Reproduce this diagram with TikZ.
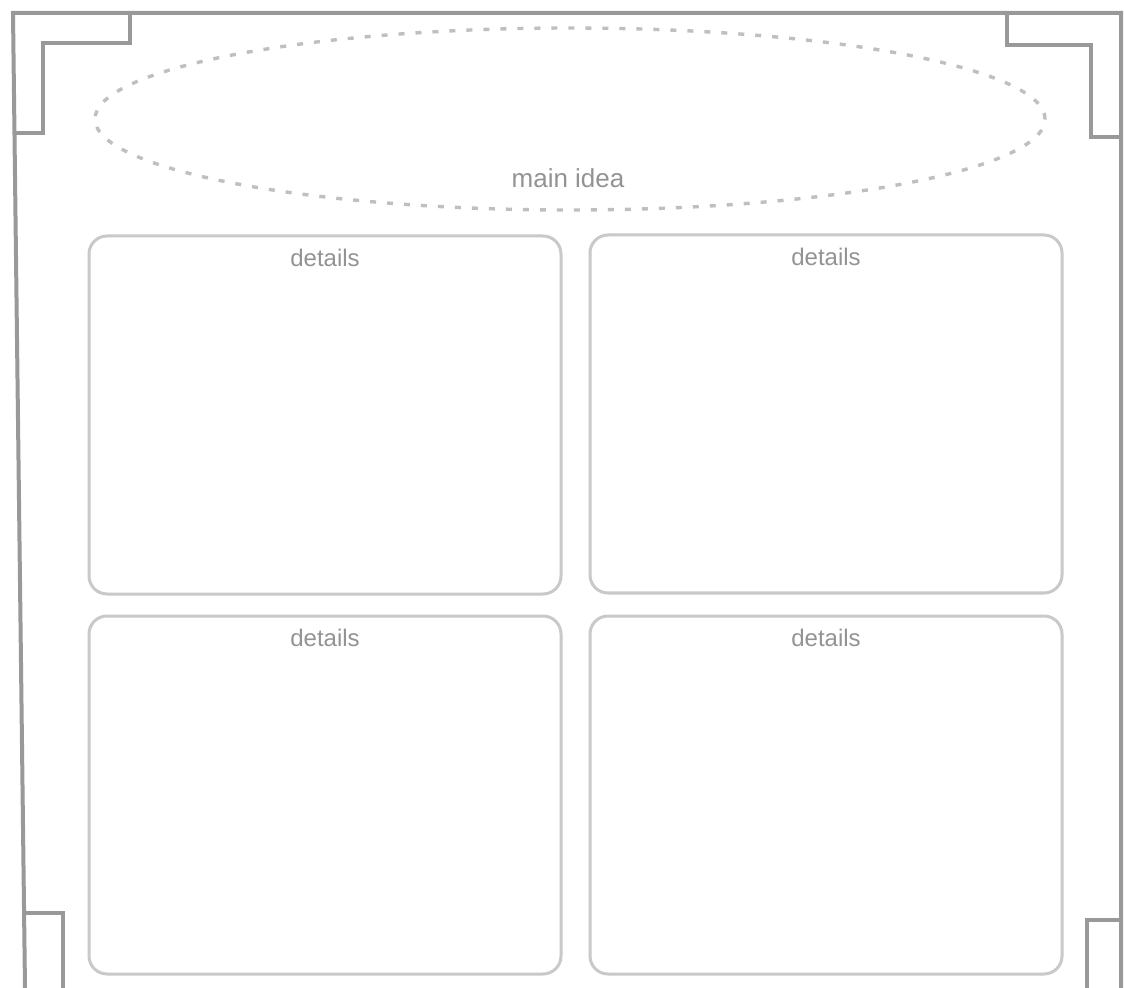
\documentclass[tikz,border=0pt]{standalone}
\usepackage{fontspec}
\setmainfont{Liberation Sans}
\usepackage{xcolor}
\usepackage{tikz}
\usetikzlibrary{positioning, shapes.geometric}
\tikzset{
    frameline/.style={draw=gray!80, line width=2pt, line join=miter},
    % idea and detail styles
    ideaoval/.style={ellipse, draw=gray!50, line width=1.7pt, dash pattern=on 3pt off 5.5pt, minimum width=475pt, minimum height=91pt},
    detailbox/.style={rectangle, draw=gray!42, line width=1.5pt, rounded corners=9pt, minimum width=236pt, minimum height=179pt},
    boxtitle/.style={font=\fontsize{12}{14}\selectfont, text=gray!85, inner sep=1pt}
}
\begin{document}
\begin{tikzpicture}[x=0.5pt, y=-0.5pt]
    \useasboundingbox[fill=white] (0,0) rectangle (1124,988);

    % Frame with corner notches
    \draw[frameline] (25,988) -- (13,13) -- (1121,13) -- (1121,988);
    \draw[frameline] (130,13) -- (130,43) -- (43,43) -- (43,133) -- (14,133);
    \draw[frameline] (1007,13) -- (1007,45) -- (1091,45) -- (1091,137) -- (1121,137);
    \draw[frameline] (24,913) -- (63,913) -- (63,988);
    \draw[frameline] (1121,920) -- (1087,920) -- (1087,988);

    % Main idea
    \node[ideaoval] (idea) at (570,119) {};
    \node[boxtitle, font=\fontsize{13}{15}\selectfont] (ideatext) at (568,178) {main idea};

    % Detail boxes
    \node[detailbox] (box1) at (325,415) {};
    \node[detailbox] (box2) at (826,414) {};
    \node[detailbox] (box3) at (325,795) {};
    \node[detailbox] (box4) at (826,795) {};

    \node[boxtitle, below=6pt of box1.north] (title1) {details};
    \node[boxtitle, below=6pt of box2.north] (title2) {details};
    \node[boxtitle, below=6pt of box3.north] (title3) {details};
    \node[boxtitle, below=6pt of box4.north] (title4) {details};
\end{tikzpicture}
\end{document}
